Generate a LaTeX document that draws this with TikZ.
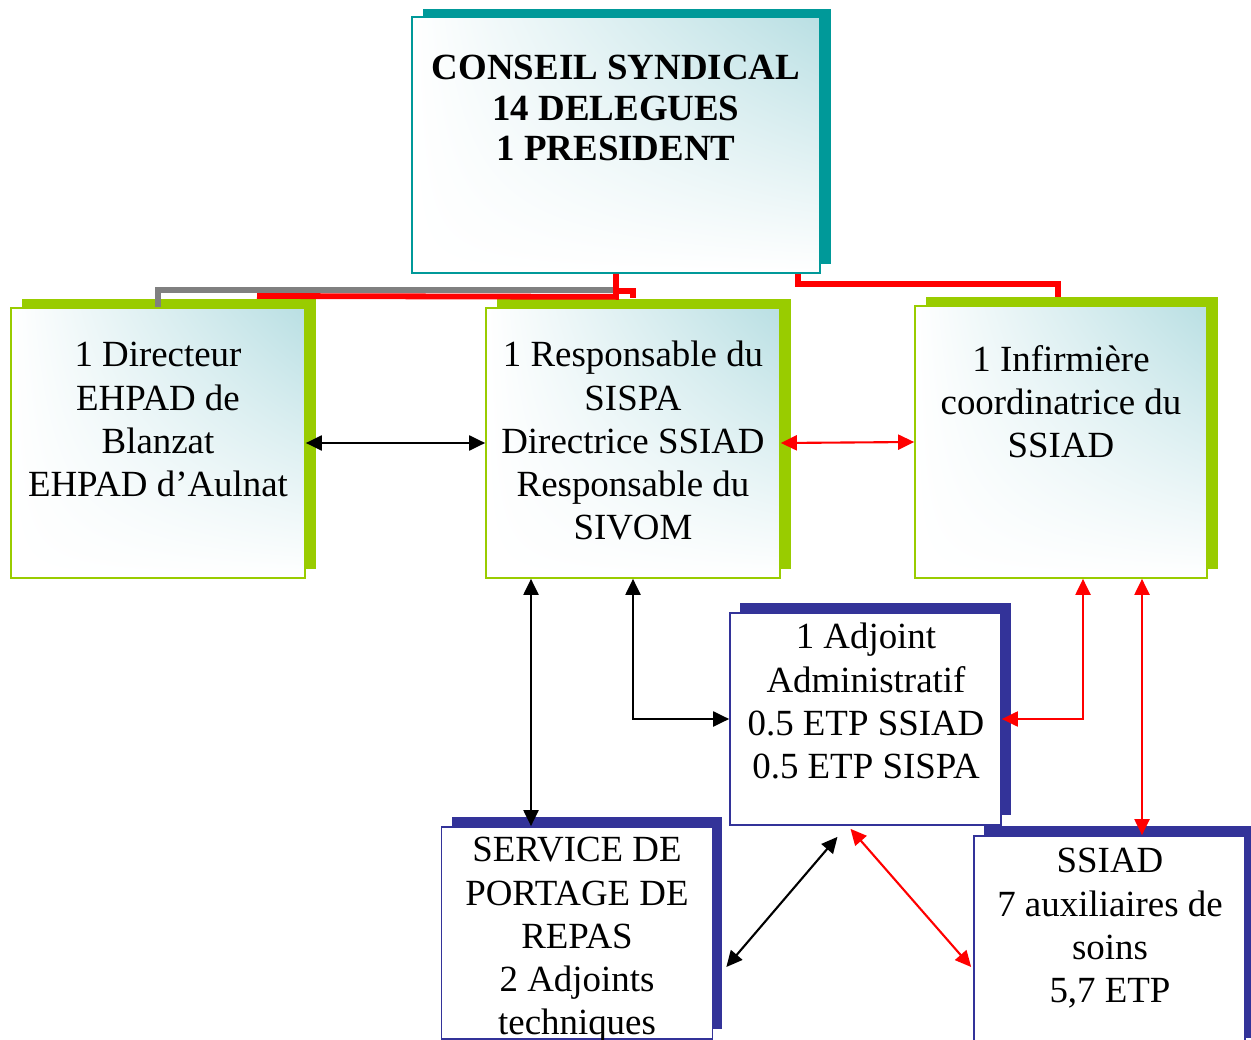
\documentclass[tikz,border=0pt]{standalone}
\usepackage{fontspec}
\setmainfont{Liberation Serif}
\usetikzlibrary{arrows.meta, calc, shadows, shadings}
\definecolor{grassgreen}{HTML}{99CC00}
\definecolor{seateal}{HTML}{009999}
\definecolor{deepnavy}{HTML}{333399}
\definecolor{paletint}{HTML}{B9DFE3}
\tikzset{
	box/.style={rectangle, line width=1pt, inner sep=0pt},
	soft/.style={box, shade, upper right=paletint, upper left=white, lower left=white, lower right=white},
	topbox/.style={soft, draw=seateal, minimum width=8.16cm, minimum height=5.12cm,
		drop shadow={shadow xshift=0.22cm, shadow yshift=0.17cm, fill=seateal, opacity=1}},
	greenbox/.style={soft, draw=grassgreen, minimum width=5.88cm, minimum height=5.4cm,
		drop shadow={shadow xshift=0.22cm, shadow yshift=0.18cm, fill=grassgreen, opacity=1}},
	bluebox/.style={box, fill=white, draw=deepnavy, minimum width=5.42cm, minimum height=4.24cm,
		drop shadow={shadow xshift=0.2cm, shadow yshift=0.2cm, fill=deepnavy, opacity=1}},
	txt/.style={inner sep=0pt, align=center, anchor=north, font=\fontsize{21}{24.6}\selectfont},
	boldtxt/.style={txt, font=\fontsize{21}{23}\selectfont\bfseries},
	redline/.style={red, line width=3.3pt},
	grayline/.style={gray, line width=3.3pt},
	arr/.style={{Triangle[length=0.32cm,width=0.3cm]}-{Triangle[length=0.32cm,width=0.3cm]}, line width=1.2pt},
}
\begin{document}
\begin{tikzpicture}[x=0.02cm, y=-0.02cm]
	\useasboundingbox (0,0) rectangle (1251,1040);
	\node[topbox] (conseil) at (616,145) {};
	\node[greenbox] (dir) at (158,443) {};
	\node[greenbox] (resp) at (633,443) {};
	\node[greenbox, minimum width=5.84cm, minimum height=5.44cm] (inf) at (1061,442) {};
	\node[bluebox] (adj) at (865.5,719) {};
	\node[bluebox] (serv) at (577,933) {};
	\node[bluebox] (ssiad) at (1109.5,942) {};
	\node[boldtxt] (conseil-t) at (616,55) {CONSEIL SYNDICAL\\14 DELEGUES\\1 PRESIDENT};
	\node[txt] (dir-t) at (158,342) {1 Directeur\\EHPAD de\\Blanzat\\EHPAD d’Aulnat};
	\node[txt] (resp-t) at (633,341) {1 Responsable du\\SISPA\\Directrice SSIAD\\Responsable du\\SIVOM};
	\node[txt] (inf-t) at (1061,345) {1 Infirmière\\coordinatrice du\\SSIAD};
	\node[txt] (adj-t) at (866,623) {1 Adjoint\\Administratif\\0.5 ETP SSIAD\\0.5 ETP SISPA};
	\node[txt] (serv-t) at (577,837) {SERVICE DE\\PORTAGE DE\\REPAS\\2 Adjoints\\techniques};
	\node[txt] (ssiad-t) at (1110,848) {SSIAD\\7 auxiliaires de\\soins\\5,7 ETP};
	\coordinate (cut) at (257,296);
	\draw[grayline] (conseil.south) -- ++(0,16) -| (dir.north);
	\draw[redline] (conseil.south) -- ++(0,23) -- (cut);
	\draw[redline] (conseil.south) -- ++(0,17) -| ($(resp.north)+(0,-9)$);
	\draw[redline] ($(conseil.south east)+(-23,0)$) -- ++(0,10) -| ($(inf.north)+(-3,-8)$);
	\draw[arr] (dir.east) -- (resp.west);
	\draw[arr, red] (resp.east) -- (inf.west);
	\coordinate (c1) at ($(resp.south)+(-102,0)$);
	\draw[arr] (c1) -- (c1 |- serv.north);
	\draw[arr] (resp.south) |- (adj.west);
	\coordinate (c2) at ($(inf.south)+(22,0)$);
	\draw[arr, red] (c2) |- (adj.east);
	\coordinate (c3) at ($(inf.south)+(81,0)$);
	\draw[arr, red] (c3) -- (c3 |- ssiad.north);
	\draw[arr] ($(adj.south)+(-28,11)$) -- ($(serv.east)+(13,34)$);
	\draw[arr, red] ($(adj.south)+(-15,3)$) -- ($(ssiad.west)+(-2,25)$);
\end{tikzpicture}
\end{document}
